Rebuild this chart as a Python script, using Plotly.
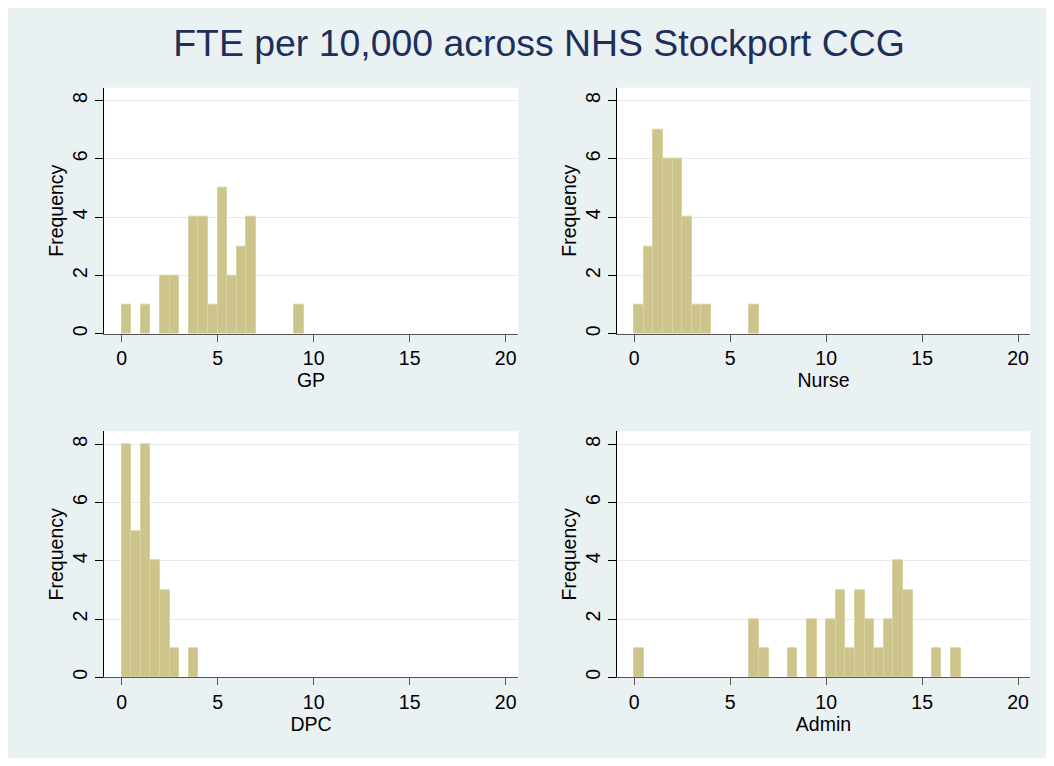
import plotly.graph_objects as go

# The page adds an 8px body margin on every side, so the figure is 16px smaller
# than the 1054x766 window and all pixel positions are shifted by -8.
W, H = 1038, 750

# ---- data (bin left edges, width 0.5; counts) ----
gp_bins = [0, 1, 2, 2.5, 3.5, 4, 4.5, 5, 5.5, 6, 6.5, 9]
gp_counts = [1, 1, 2, 2, 4, 4, 1, 5, 2, 3, 4, 1]

nurse_bins = [0, 0.5, 1, 1.5, 2, 2.5, 3, 3.5, 6]
nurse_counts = [1, 3, 7, 6, 6, 4, 1, 1, 1]

dpc_bins = [0, 0.5, 1, 1.5, 2, 2.5, 3.5]
dpc_counts = [8, 5, 8, 4, 3, 1, 1]

admin_bins = [0, 6, 6.5, 8, 9, 10, 10.5, 11, 11.5, 12, 12.5, 13, 13.5, 14, 15.5, 16.5]
admin_counts = [1, 2, 1, 1, 2, 2, 3, 1, 3, 2, 1, 2, 4, 3, 1, 1]

bin_width = 0.5
panel_names = ["GP", "Nurse", "DPC", "Admin"]
x_ticks = [0, 5, 10, 15, 20]
y_ticks = [0, 2, 4, 6, 8]
title_text = "FTE per 10,000 across NHS Stockport CCG"

series = [(gp_bins, gp_counts), (nurse_bins, nurse_counts),
          (dpc_bins, dpc_counts), (admin_bins, admin_counts)]

# ---- layout geometry (pixels within the figure) ----
cols = [(96, 510, [-0.92, 20.64]), (609, 1022, [-0.90, 20.62])]
rows = [(80, 327), (425, 672)]

FONT = "Liberation Sans, Arial, Helvetica, sans-serif"
BG = "#EAF1F3"
BAR = "#CCC48A"
BAR_LINE = "#D8D2A4"
GRID = "#E3ECEF"

fig = go.Figure()
layout = dict(
    width=W, height=H,
    margin=dict(l=0, r=0, t=0, b=0),
    paper_bgcolor=BG,
    plot_bgcolor="white",
    showlegend=False,
    font=dict(family=FONT, size=19.5, color="black"),
    title=dict(text=title_text, x=531 / W, y=1 - 35 / H, xanchor="center",
               yanchor="middle", xref="paper", yref="paper",
               font=dict(family=FONT, size=37.4, color="#1E2F5C")),
    bargap=0,
)

for i, ((bins, counts), name) in enumerate(zip(series, panel_names)):
    r, c = divmod(i, 2)
    x0, x1, xr = cols[c]
    y0, y1 = rows[r]
    sfx = "" if i == 0 else str(i + 1)
    fig.add_trace(go.Bar(
        x=bins, y=counts, width=bin_width, offset=0,
        marker=dict(color=BAR, line=dict(color=BAR_LINE, width=1)),
        xaxis="x" + sfx, yaxis="y" + sfx, hoverinfo="x+y",
    ))
    layout["xaxis" + sfx] = dict(
        domain=[x0 / W, x1 / W], range=xr, anchor="y" + sfx,
        tickvals=x_ticks, ticks="outside", ticklen=7, tickcolor="#555555",
        showline=True, linecolor="#555555", linewidth=1.3,
        showgrid=False, zeroline=False,
        title=dict(text=name, standoff=0, font=dict(size=19.5)),
        tickfont=dict(size=19.5), fixedrange=True,
    )
    layout["yaxis" + sfx] = dict(
        domain=[1 - y1 / H, 1 - y0 / H], range=[0, 8.44], anchor="x" + sfx,
        tickvals=y_ticks, ticks="outside", ticklen=8, tickcolor="black",
        tickangle=-90,
        showline=True, linecolor="black", linewidth=1.3,
        showgrid=True, gridcolor=GRID, gridwidth=1.3, zeroline=False,
        title=dict(text="Frequency", standoff=0, font=dict(size=19.5)),
        tickfont=dict(size=19.5), fixedrange=True,
    )

fig.update_layout(**layout)
fig.write_html("out.html")
